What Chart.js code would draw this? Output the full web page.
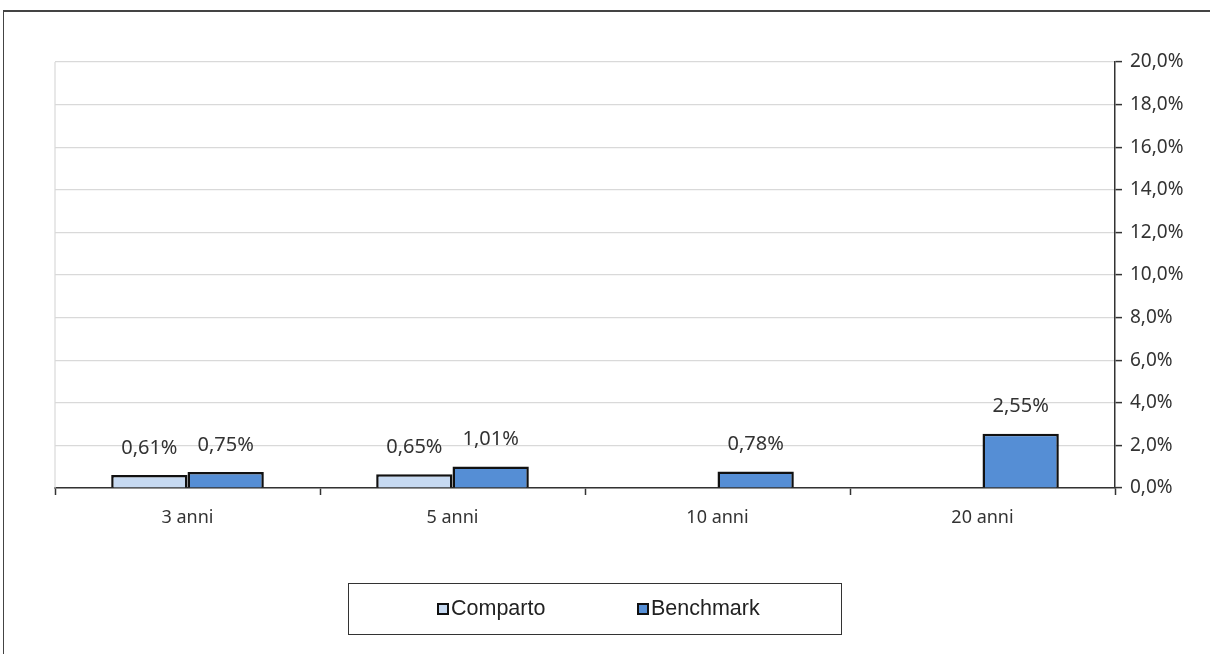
<!DOCTYPE html>
<html lang="it">
<head>
    <meta charset="UTF-8">
    <title>Rendimenti</title>
    <script src="https://cdn.jsdelivr.net/npm/chart.js@4.4.0/dist/chart.umd.min.js"></script>
    <style>
        body {
            margin: 0;
            background: #fff;
        }

        .frame {
            position: absolute;
            left: 3px;
            top: 10px;
            width: 1300px;
            height: 700px;
            border-left: 1px solid #444;
            border-top: 2px solid #444;
        }

        .chart-wrap {
            position: absolute;
            left: 0;
            top: 0;
            width: 1210px;
            height: 654px;
        }

        .legend {
            position: absolute;
            left: 348px;
            top: 583px;
            width: 492px;
            height: 50px;
            border: 1.5px solid #333;
            font-family: "Liberation Sans", Arial, sans-serif;
            font-size: 21.5px;
            color: #222;
        }

        .legend-item {
            position: absolute;
            top: 12px;
            display: flex;
            align-items: center;
        }

        .legend-item span.box {
            display: inline-block;
            width: 8px;
            height: 8px;
            border: 2px solid #111;
            margin-right: 2px;
        }
    </style>
</head>
<body>
    <div class="frame"></div>
    <div class="chart-wrap">
        <canvas id="myChart"></canvas>
    </div>
    <div class="legend">
        <div class="legend-item" style="left: 88px;"><span class="box" style="background:#c6d9f1"></span>Comparto</div>
        <div class="legend-item" style="left: 288px;"><span class="box" style="background:#558ed5"></span>Benchmark</div>
    </div>
    <script>
        const categories = ['3 anni', '5 anni', '10 anni', '20 anni'];
        const comparto = [0.61, 0.65, null, null];
        const benchmark = [0.75, 1.01, 0.78, 2.55];

        const fmt = function (v, d) {
            return v.toFixed(d).replace('.', ',') + '%';
        };

        // bordo sinistro grigio dell'area del grafico
        const leftEdge = {
            id: 'leftEdge',
            beforeDatasetsDraw(chart) {
                const a = chart.chartArea;
                const ctx = chart.ctx;
                ctx.save();
                ctx.strokeStyle = '#d9d9d9';
                ctx.lineWidth = 1.2;
                ctx.beginPath();
                ctx.moveTo(a.left, a.top);
                ctx.lineTo(a.left, a.bottom);
                ctx.stroke();
                ctx.restore();
            }
        };

        // scrive il valore sopra ogni barra
        const barLabels = {
            id: 'barLabels',
            afterDatasetsDraw(chart) {
                const ctx = chart.ctx;
                ctx.save();
                ctx.font = '20px "Noto Sans", sans-serif';
                ctx.fillStyle = '#333';
                ctx.textAlign = 'center';
                ctx.textBaseline = 'middle';
                chart.data.datasets.forEach(function (ds, i) {
                    chart.getDatasetMeta(i).data.forEach(function (bar, j) {
                        if (ds.data[j] == null) return;
                        ctx.fillText(fmt(ds.data[j], 2), bar.x, bar.y - 27);
                    });
                });
                ctx.restore();
            }
        };

        const ctx = document.getElementById('myChart').getContext('2d');
        const myChart = new Chart(ctx, {
            type: 'bar',
            data: {
                labels: categories,
                datasets: [{
                    label: 'Comparto',
                    data: comparto,
                    backgroundColor: '#c6d9f1',
                    borderColor: '#111',
                    borderWidth: 2.5
                }, {
                    label: 'Benchmark',
                    data: benchmark,
                    backgroundColor: '#558ed5',
                    borderColor: '#111',
                    borderWidth: 2.5
                }]
            },
            options: {
                responsive: true,
                maintainAspectRatio: false,
                animation: false,
                datasets: {
                    bar: {
                        categoryPercentage: 0.576,
                        barPercentage: 1
                    }
                },
                layout: {
                    padding: { left: 55, top: 62, right: 10, bottom: 126 }
                },
                plugins: {
                    legend: { display: false },
                    tooltip: { enabled: false }
                },
                scales: {
                    x: {
                        grid: {
                            offset: true,
                            drawOnChartArea: false,
                            drawTicks: true,
                            tickLength: 7,
                            tickColor: '#333',
                            tickWidth: 1.5
                        },
                        border: { color: '#333', width: 1.5 },
                        ticks: {
                            color: '#333',
                            padding: 12,
                            font: { family: '"Noto Sans", sans-serif', size: 18 }
                        },
                        afterFit: function (scale) {
                            scale.height = 40;
                        }
                    },
                    y: {
                        position: 'right',
                        min: 0,
                        max: 20,
                        grid: {
                            color: '#d9d9d9',
                            lineWidth: 1.2,
                            tickLength: 7,
                            tickColor: '#333',
                            tickWidth: 1.5
                        },
                        border: { color: '#333', width: 1.5 },
                        ticks: {
                            stepSize: 2,
                            color: '#333',
                            padding: 8,
                            font: { family: '"Noto Sans", sans-serif', size: 19 },
                            callback: function (v) {
                                return fmt(v, 1);
                            }
                        },
                        afterFit: function (scale) {
                            scale.width = 85;
                        }
                    }
                }
            },
            plugins: [leftEdge, barLabels]
        });
    </script>
</body>
</html>
